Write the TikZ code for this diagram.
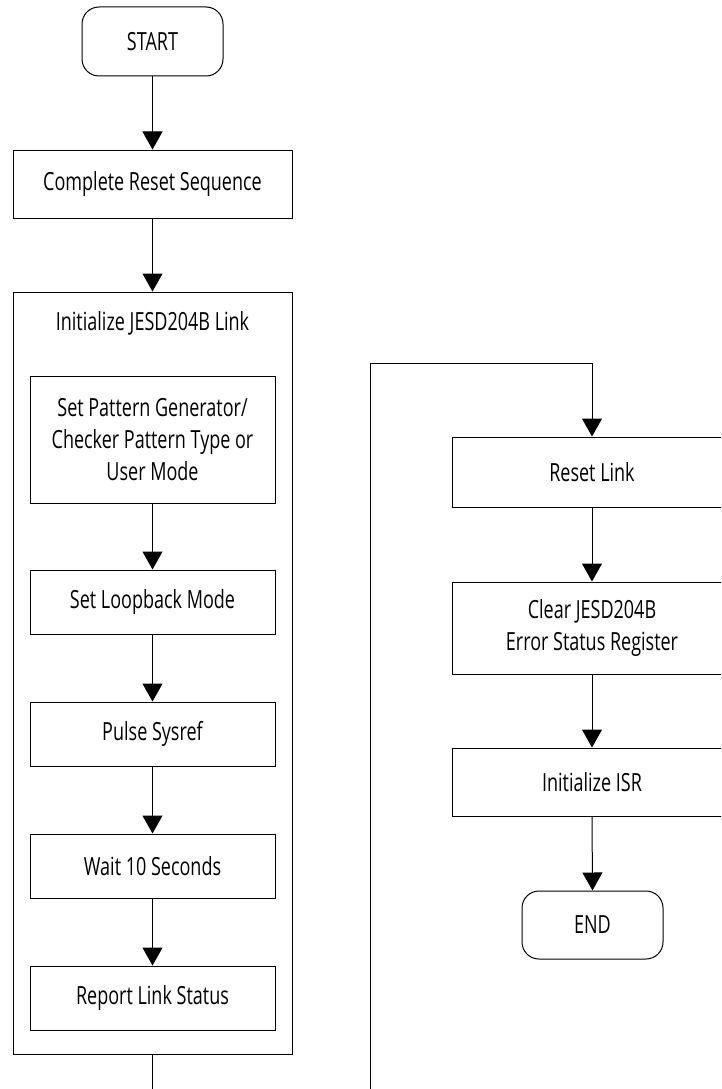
\documentclass[tikz,border=0pt]{standalone}
\usepackage{fontspec}
\setmainfont{Open Sans}[FakeStretch=0.72]
\usetikzlibrary{arrows.meta}
\begin{document}
\begin{tikzpicture}[x=1pt,y=-1pt,line width=1pt,
  txt/.style={inner sep=0pt,align=center,font=\fontsize{25}{32}\selectfont},
  box/.style={txt,draw,rectangle},
  term/.style={box,rounded corners=17pt},
  arr/.style={-{Triangle[length=18pt,width=20pt]}}]
\useasboundingbox (0,0) rectangle (721,1089);
\clip (0,0) rectangle (721,1089);
% left column
\node[term,minimum width=141pt,minimum height=69pt] (start) at (152.5,41.5) {START};
\node[box,minimum width=279pt,minimum height=68pt] (reset) at (152.5,184) {Complete Reset Sequence};
\node[draw,rectangle,inner sep=0pt,minimum width=279pt,minimum height=762pt] (init) at (152.5,673) {};
\node[txt] (initt) at (152.5,323) {Initialize JESD204B Link};
\node[box,minimum width=245pt,minimum height=127pt] (pattern) at (152.5,439.5) {Set Pattern Generator/\\Checker Pattern Type or\\User Mode};
\node[box,minimum width=245pt,minimum height=64pt] (loop) at (152.5,602) {Set Loopback Mode};
\node[box,minimum width=245pt,minimum height=64pt] (pulse) at (152.5,734) {Pulse Sysref};
\node[box,minimum width=245pt,minimum height=64pt] (wait) at (152.5,866) {Wait 10 Seconds};
\node[box,minimum width=245pt,minimum height=64pt] (report) at (152.5,998) {Report Link Status};
% right column
\node[box,minimum width=280pt,minimum height=70pt] (rlink) at (592,472) {Reset Link};
\node[box,minimum width=280pt,minimum height=92pt] (clear) at (592,628) {Clear JESD204B\\Error Status Register};
\node[box,minimum width=280pt,minimum height=68pt] (isr) at (592,782) {Initialize ISR};
\node[term,minimum width=141pt,minimum height=68pt] (end) at (592.5,925) {END};
% connectors
\draw[arr] (start.south) -- (reset.north);
\draw[arr] (reset.south) -- (init.north);
\draw[arr] (pattern.south) -- (loop.north);
\draw[arr] (loop.south) -- (pulse.north);
\draw[arr] (pulse.south) -- (wait.north);
\draw[arr] (wait.south) -- (report.north);
\coordinate (lb) at (152.5,1089);
\draw (init.south) -- (lb);
\coordinate (rb) at (370,1089);
\coordinate (rc) at (370,363);
\draw[arr] (rb) -- (rc) -| (rlink.north);
\draw[arr] (rlink.south) -- (clear.north);
\draw[arr] (clear.south) -- (isr.north);
\draw[arr] (isr.south) -- (end.north);
\end{tikzpicture}
\end{document}
